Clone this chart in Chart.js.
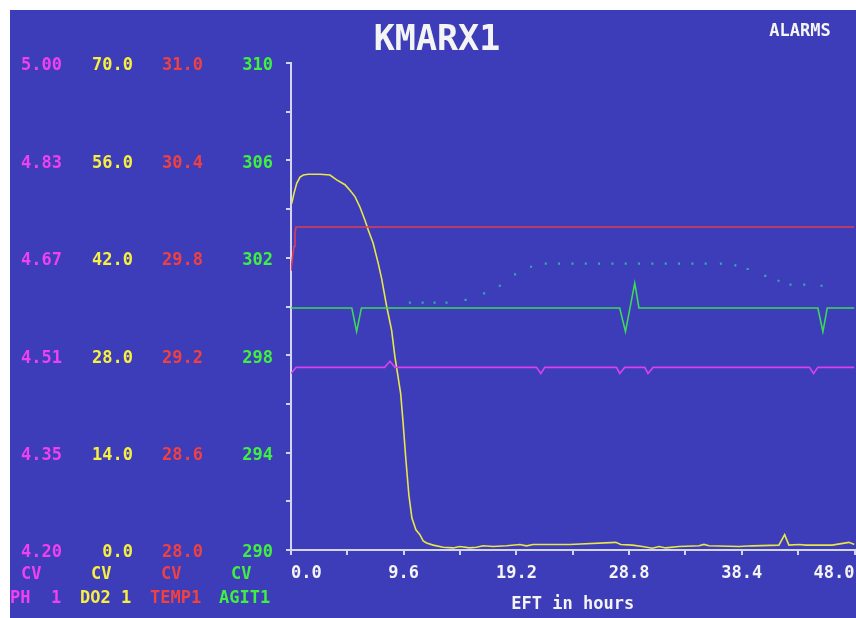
<!DOCTYPE html>
<html>
<head>
<meta charset="utf-8">
<script src="https://cdn.jsdelivr.net/npm/chart.js@4.4.1/dist/chart.umd.min.js"></script>
<style>
  html, body { margin: 0; background: #fff; }
  #wrap { position: absolute; left: 10px; top: 10px; width: 846px; height: 608px; background: #3d3db9; }
</style>
</head>
<body>
<div id="wrap"><canvas id="mainChart" width="846" height="608"></canvas></div>
<script>
// x axis (EFT in hours)
const xTickValues = [0, 4.8, 9.6, 14.4, 19.2, 24, 28.8, 33.6, 38.4, 43.2, 48];
const xTickLabels = ['0.0', '', '9.6', '', '19.2', '', '28.8', '', '38.4', '', '48.0'];

// left scales
const phTickValues = [4.2, 4.36, 4.52, 4.68, 4.84, 5.0];
const phTickLabels = ['4.20', '4.35', '4.51', '4.67', '4.83', '5.00'];
const do2TickValues = [0, 14, 28, 42, 56, 70];
const do2TickLabels = ['0.0', '14.0', '28.0', '42.0', '56.0', '70.0'];
const tempTickValues = [28, 28.6, 29.2, 29.8, 30.4, 31];
const tempTickLabels = ['28.0', '28.6', '29.2', '29.8', '30.4', '31.0'];
const agitTickValues = [290, 292, 294, 296, 298, 300, 302, 304, 306, 308, 310];
const agitTickLabels = ['290', '', '294', '', '298', '', '302', '', '306', '', '310'];

// series
const phHours = [0, 0.43, 7.98, 8.43, 8.85, 20.91, 21.28, 21.62, 27.72, 28.0, 28.43, 30.13, 30.41, 30.84, 44.17, 44.51, 44.88, 48];
const phValues = [4.49, 4.50, 4.50, 4.51, 4.50, 4.50, 4.49, 4.50, 4.50, 4.49, 4.50, 4.50, 4.49, 4.50, 4.50, 4.49, 4.50, 4.50];

const do2Hours = [0.06, 0.26, 0.49, 0.77, 1.05, 1.47, 2.47, 3.32, 3.89, 4.60, 5.02, 5.45, 5.87, 6.30, 6.58, 7.00, 7.43, 7.72,
  8.15, 8.57, 8.85, 9.34, 9.53, 9.79, 10.04, 10.30, 10.64, 10.98, 11.26, 11.55, 12.11, 12.96, 13.81, 14.38, 15.23, 15.81,
  16.37, 17.22, 18.36, 19.49, 20.06, 20.62, 23.75, 27.66, 28.09, 29.08, 29.93, 30.78, 31.35, 31.92, 33.05, 34.75, 35.18,
  35.60, 38.16, 39.30, 41.56, 42.05, 42.41, 43.26, 43.83, 46.10, 47.52, 48.0];
const do2Values = [49.8, 51.3, 52.7, 53.6, 53.9, 54.0, 54.0, 53.9, 53.2, 52.5, 51.7, 50.8, 49.3, 47.4, 46.0, 44.1, 41.2, 39.0,
  35.0, 31.6, 27.8, 22.5, 18.7, 12.9, 7.9, 4.6, 2.9, 2.2, 1.3, 1.0, 0.7, 0.4, 0.3, 0.5, 0.3, 0.4,
  0.6, 0.5, 0.6, 0.8, 0.6, 0.8, 0.8, 1.1, 0.8, 0.7, 0.5, 0.25, 0.5, 0.3, 0.5, 0.6, 0.8,
  0.6, 0.5, 0.6, 0.7, 2.2, 0.7, 0.8, 0.7, 0.7, 1.1, 0.8];

const tempHours = [0, 0.14, 0.26, 0.34, 0.43, 48];
const tempValues = [29.72, 29.81, 29.87, 29.95, 29.99, 29.99];

const agitHours = [0, 5.18, 5.59, 6.0, 28.0, 28.49, 29.28, 29.64, 44.88, 45.31, 45.68, 48];
const agitValues = [299.94, 299.94, 298.97, 299.94, 299.94, 298.97, 300.96, 299.94, 299.94, 298.97, 299.94, 299.94];

// faint dotted trace (on agit scale)
const dotHours = [10.13, 11.21, 12.23, 13.25, 14.87, 16.45, 17.79, 19.09, 20.45, 21.70, 22.83, 23.98, 25.11, 26.24, 27.38,
  28.51, 29.64, 30.78, 31.92, 33.05, 34.19, 35.32, 36.62, 37.85, 38.90, 40.40, 41.53, 42.55, 43.72, 45.19];
const dotValues = [300.16, 300.16, 300.16, 300.16, 300.27, 300.54, 300.85, 301.32, 301.63, 301.76, 301.76, 301.76, 301.76,
  301.76, 301.76, 301.76, 301.76, 301.76, 301.76, 301.76, 301.76, 301.76, 301.76, 301.69, 301.54, 301.26, 301.06, 300.90,
  300.90, 300.85];

const PINK = '#f040f0', YELLOW = '#f8f040', RED = '#f04040', GREEN = '#40f040', AXIS = '#d4d4ee', WHITE = '#f4f4f4';
const FONT = { family: "'DejaVu Sans Mono', monospace", size: 17, weight: 'bold' };

const toPoints = (xs, ys) => xs.map((x, i) => ({ x: x, y: ys[i] }));

function sideAxis(weight, width, min, max, values, labels, color, padding) {
  return {
    type: 'linear', position: 'left', weight: weight, min: min, max: max,
    afterFit: s => { s.width = width; },
    afterBuildTicks: s => { s.ticks = values.map(v => ({ value: v })); },
    grid: { display: false },
    border: { display: false },
    ticks: { color: color, font: FONT, padding: padding, labelOffset: 3, autoSkip: false,
      callback: (v, i) => labels[i] }
  };
}

const screenText = {
  id: 'screenText',
  afterDraw(chart) {
    const ctx = chart.ctx;
    ctx.save();
    ctx.textBaseline = 'middle';
    ctx.fillStyle = WHITE;
    ctx.textAlign = 'center';
    ctx.font = "bold 35px 'DejaVu Sans Mono', monospace";
    ctx.fillText('KMARX1', 427, 31);
    ctx.font = "bold 17px 'DejaVu Sans Mono', monospace";
    ctx.fillText('ALARMS', 790, 22);

    ctx.textAlign = 'left';
    const colors = [PINK, YELLOW, RED, GREEN];
    const cvX = [11, 81, 151, 221];
    const nameX = [0, 70, 140, 209];
    const names = ['PH  1', 'DO2 1', 'TEMP1', 'AGIT1'];
    colors.forEach((c, i) => {
      ctx.fillStyle = c;
      ctx.fillText('CV', cvX[i], 565);
      ctx.fillText(names[i], nameX[i], 589);
    });
    ctx.restore();
  }
};

const config = {
  type: 'scatter',
  data: {
    datasets: [
      { label: 'DOTS', data: toPoints(dotHours, dotValues), yAxisID: 'agit', showLine: false,
        pointRadius: 1.5, pointStyle: 'rect', backgroundColor: '#33aab0', borderWidth: 0 },
      { label: 'PH 1', data: toPoints(phHours, phValues), yAxisID: 'ph', borderColor: '#d840f0' },
      { label: 'AGIT1', data: toPoints(agitHours, agitValues), yAxisID: 'agit', borderColor: '#3cd85a' },
      { label: 'TEMP1', data: toPoints(tempHours, tempValues), yAxisID: 'temp', borderColor: '#e03c52' },
      { label: 'DO2 1', data: toPoints(do2Hours, do2Values), yAxisID: 'do2', borderColor: '#e8e648' }
    ]
  },
  options: {
    responsive: false,
    animation: false,
    showLine: true,
    layout: { padding: { top: 53, right: 1, bottom: 0, left: 0 } },
    elements: {
      line: { borderWidth: 1.6, tension: 0, fill: false },
      point: { radius: 0, hoverRadius: 0 }
    },
    scales: {
      x: {
        type: 'linear', min: 0, max: 48,
        afterFit: s => { s.height = 68; s.paddingLeft = 0; s.paddingRight = 0; },
        afterBuildTicks: s => { s.ticks = xTickValues.map(v => ({ value: v })); },
        grid: { drawOnChartArea: false, color: AXIS, tickLength: 5, lineWidth: 2 },
        border: { color: AXIS, width: 2 },
        ticks: { color: WHITE, font: FONT, padding: 8, align: 'inner', autoSkip: false, maxRotation: 0,
          callback: (v, i) => xTickLabels[i] },
        title: { display: true, text: 'EFT in hours', color: WHITE, font: FONT, padding: { top: 0, bottom: 3 } }
      },
      ph: sideAxis(4, 71, 4.2, 5.0, phTickValues, phTickLabels, PINK, 11),
      do2: sideAxis(3, 70, 0, 70, do2TickValues, do2TickLabels, YELLOW, 10),
      temp: sideAxis(2, 70, 28, 31, tempTickValues, tempTickLabels, RED, 10),
      agit: {
        type: 'linear', position: 'left', weight: 1, min: 290, max: 310,
        afterFit: s => { s.width = 70; },
        afterBuildTicks: s => { s.ticks = agitTickValues.map(v => ({ value: v })); },
        grid: { drawOnChartArea: false, color: AXIS, tickLength: 5, lineWidth: 2 },
        border: { color: AXIS, width: 2 },
        ticks: { color: GREEN, font: FONT, padding: 13, labelOffset: 3, autoSkip: false,
          callback: (v, i) => agitTickLabels[i] }
      }
    },
    plugins: {
      legend: { display: false },
      tooltip: { enabled: false },
      title: { display: false }
    }
  },
  plugins: [screenText]
};

const c = new Chart('mainChart', config);
</script>
</body>
</html>
